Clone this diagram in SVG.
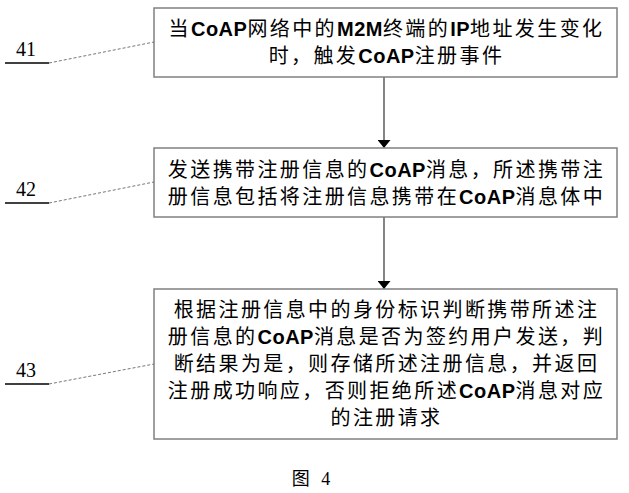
<svg xmlns="http://www.w3.org/2000/svg" width="629" height="493" viewBox="0 0 629 493">
<style>
.box{fill:#fff;stroke:#808080;stroke-width:1.5}
.t{font-family:"Liberation Sans","Noto Sans CJK SC",sans-serif;font-size:20px;fill:#000;text-anchor:middle;letter-spacing:2.4px}
.l{font-weight:bold;letter-spacing:0.5px}
.num{font-family:"Liberation Serif",serif;font-size:20px;fill:#000}
.ul{stroke:#000;stroke-width:1.5}
.lead{stroke:#777;stroke-width:1;stroke-dasharray:3 2;fill:none}
.conn{stroke:#333;stroke-width:1.2;fill:none}
</style>
<defs>
<marker id="ah" markerWidth="8" markerHeight="13" refX="8" refY="6.5" orient="auto" markerUnits="userSpaceOnUse" viewBox="0 0 8 13">
<path d="M0,0 L8,6.5 L0,13 Z" fill="#000"/>
</marker>
</defs>
<rect width="629" height="493" fill="#fff"/>
<g id="connectors">
<line class="conn" x1="384" y1="77" x2="384" y2="148" marker-end="url(#ah)"/>
<line class="conn" x1="384" y1="217" x2="384" y2="289" marker-end="url(#ah)"/>
</g>
<g id="node41">
<rect class="box" x="154" y="8" width="463" height="69"/>
<text class="t" x="386.5" y="36">当<tspan class="l">CoAP</tspan>网络中的<tspan class="l">M2M</tspan>终端的<tspan class="l">IP</tspan>地址发生变化</text>
<text class="t" x="386.5" y="63">时，触发<tspan class="l">CoAP</tspan>注册事件</text>
</g>
<g id="label41">
<text class="num" x="16" y="56">41</text>
<line class="ul" x1="5" y1="63" x2="49" y2="63"/>
<line class="lead" x1="49" y1="63" x2="154" y2="42"/>
</g>
<g id="node42">
<rect class="box" x="154" y="148" width="463" height="69"/>
<text class="t" x="386.5" y="177">发送携带注册信息的<tspan class="l">CoAP</tspan>消息，所述携带注</text>
<text class="t" x="386.5" y="204">册信息包括将注册信息携带在<tspan class="l">CoAP</tspan>消息体中</text>
</g>
<g id="label42">
<text class="num" x="16" y="196">42</text>
<line class="ul" x1="5" y1="203" x2="49" y2="203"/>
<line class="lead" x1="49" y1="203" x2="154" y2="182"/>
</g>
<g id="node43">
<rect class="box" x="154" y="289" width="463" height="150"/>
<text class="t" x="386.5" y="317">根据注册信息中的身份标识判断携带所述注</text>
<text class="t" x="386.5" y="344">册信息的<tspan class="l">CoAP</tspan>消息是否为签约用户发送，判</text>
<text class="t" x="386.5" y="371">断结果为是，则存储所述注册信息，并返回</text>
<text class="t" x="386.5" y="398">注册成功响应，否则拒绝所述<tspan class="l">CoAP</tspan>消息对应</text>
<text class="t" x="386.5" y="425">的注册请求</text>
</g>
<g id="label43">
<text class="num" x="16" y="377">43</text>
<line class="ul" x1="5" y1="384" x2="49" y2="384"/>
<line class="lead" x1="49" y1="384" x2="154" y2="364"/>
</g>
<g id="caption">
<text x="311" y="485" font-family="'Liberation Serif','Noto Sans CJK SC',serif" font-size="18" word-spacing="7" text-anchor="middle">图 4</text>
</g>
</svg>
